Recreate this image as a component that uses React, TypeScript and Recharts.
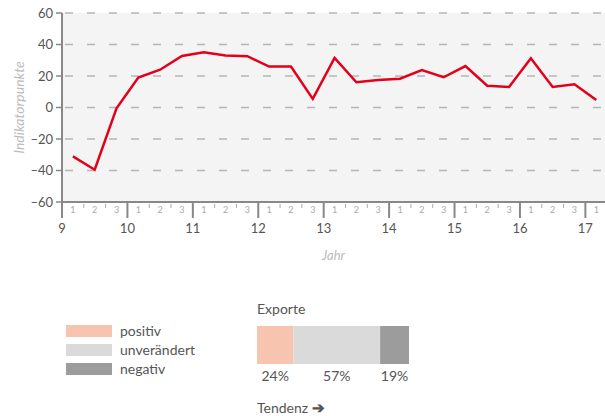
import React from "react";
import {
  LineChart,
  Line,
  XAxis,
  YAxis,
  CartesianGrid,
  BarChart,
  Bar,
  LabelList,
} from "recharts";

// Jahre (Achse) und Tertiale
const years = [9, 10, 11, 12, 13, 14, 15, 16, 17];
const tertials = ["1", "2", "3"];

// Indikatorpunkte je Tertial, ab 2009 T1
const values = [
  -31, -39.5, -0.5,
  19, 24, 32.7,
  35, 33, 32.6,
  26, 26, 5.5,
  31.5, 16, 17.4,
  18.3, 23.8, 19.2,
  26.3, 13.8, 13,
  31.3, 13, 14.8,
  4.7,
];

const yTicks = [-60, -40, -20, 0, 20, 40, 60];

// Exporte: Tendenz-Verteilung
const shares = [24, 57, 19];
const shareKeys = ["positiv", "unverändert", "negativ"];
const shareColors = ["#f7c4b0", "#d9dad9", "#9c9c9c"];

const X_MAX = 17.3;
const TEXT = "#555";
const FONT = "Lato, 'Open Sans', sans-serif";

const lineData = values.map((v, i) => ({
  t: years[0] + Math.floor(i / 3) + ((i % 3) + 0.5) / 3,
  v,
}));

const xTicks: number[] = [];
years.forEach((y) => {
  [0, 1, 2, 3, 4, 5].forEach((k) => {
    const t = y + k / 6;
    if (t <= X_MAX) xTicks.push(t);
  });
});

const barRow = [
  shareKeys.reduce((acc: any, k, i) => ({ ...acc, [k]: shares[i] }), { name: "Exporte" }),
];

function XTick(props: any) {
  const { x, y, payload } = props;
  const v = payload.value as number;
  const yr = Math.floor(v + 1e-6);
  const k = Math.round((v - yr) * 6);
  if (k === 0) {
    return (
      <g>
        <line x1={x} x2={x} y1={y} y2={y + 16} stroke="#888" strokeWidth={2} />
        <text x={x} y={y + 31} textAnchor="middle" fill={TEXT} fontSize={13} fontFamily={FONT}>
          {yr}
        </text>
      </g>
    );
  }
  if (k % 2 === 0) {
    return <line x1={x} x2={x} y1={y + 2} y2={y + 6} stroke="#aaa" strokeWidth={1} />;
  }
  return (
    <text x={x} y={y + 11} textAnchor="middle" fill="#aaa" fontSize={9} fontFamily={FONT}>
      {tertials[(k - 1) / 2]}
    </text>
  );
}

function YTitle(props: any) {
  const vb = props.viewBox;
  const cy = vb.y + vb.height / 2;
  return (
    <text
      x={18}
      y={cy}
      transform={`rotate(-90 18 ${cy})`}
      textAnchor="middle"
      dominantBaseline="central"
      fill="#bbb"
      fontStyle="italic"
      fontSize={14}
      fontFamily={FONT}
    >
      Indikatorpunkte
    </text>
  );
}

function ShareLabel(props: any) {
  const { x, y, width, height, value } = props;
  return (
    <text
      x={x + width / 2}
      y={y + height + 17}
      textAnchor="middle"
      fill={TEXT}
      fontSize={14}
      fontFamily={FONT}
    >
      {value}%
    </text>
  );
}

export default function App() {
  return (
    <div style={{ position: "absolute", left: 0, top: 0, width: 605, height: 416, background: "#fff", fontFamily: FONT }}>
      <div style={{ position: "absolute", left: 0, top: 0 }}>
        <LineChart width={605} height={270} data={lineData} margin={{ top: 13, right: 0, bottom: 0, left: 0 }}>
          <CartesianGrid
            vertical={false}
            fill="#f4f4f4"
            stroke="#b5b5b5"
            strokeWidth={1.5}
            strokeDasharray="0 3 8 11"
          />
          <XAxis
            dataKey="t"
            type="number"
            domain={[9, X_MAX]}
            ticks={xTicks}
            interval={0}
            tick={<XTick />}
            tickLine={false}
            tickSize={0}
            tickMargin={0}
            axisLine={{ stroke: "#888", strokeWidth: 2 }}
            height={68}
            label={{ value: "Jahr", position: "insideBottom", offset: 10, fill: "#bbb", fontStyle: "italic", fontSize: 13, fontFamily: FONT }}
          />
          <YAxis
            type="number"
            domain={[-60, 60]}
            ticks={yTicks}
            interval={0}
            width={62}
            tickSize={6}
            tickMargin={3}
            tickLine={{ stroke: "#888", strokeWidth: 1.5 }}
            axisLine={{ stroke: "#888", strokeWidth: 2 }}
            tick={{ fill: TEXT, fontSize: 13, fontFamily: FONT }}
            tickFormatter={(v: number) => (v < 0 ? `–${Math.abs(v)}` : `${v}`)}
            label={<YTitle />}
          />
          <Line
            type="linear"
            dataKey="v"
            stroke="#e2001a"
            strokeWidth={2.5}
            dot={false}
            isAnimationActive={false}
          />
        </LineChart>
      </div>

      {/* Legende */}
      {shareKeys.map((k, i) => (
        <div key={k} style={{ position: "absolute", left: 66, top: 325 + i * 19, display: "flex", alignItems: "center" }}>
          <div style={{ width: 46, height: 12, background: shareColors[i] }} />
          <span style={{ marginLeft: 8, fontSize: 14, color: TEXT, lineHeight: "12px" }}>{k}</span>
        </div>
      ))}

      <div style={{ position: "absolute", left: 257, top: 300, fontSize: 14, color: TEXT }}>Exporte</div>

      <div style={{ position: "absolute", left: 257, top: 326 }}>
        <BarChart
          width={152}
          height={60}
          data={barRow}
          layout="vertical"
          margin={{ top: 0, right: 0, bottom: 22, left: 0 }}
          barCategoryGap={0}
        >
          <XAxis type="number" domain={[0, 100]} hide />
          <YAxis type="category" dataKey="name" hide />
          {shareKeys.map((k, i) => (
            <Bar key={k} dataKey={k} stackId="a" fill={shareColors[i]} isAnimationActive={false}>
              <LabelList dataKey={k} content={<ShareLabel />} />
            </Bar>
          ))}
        </BarChart>
      </div>

      <div style={{ position: "absolute", left: 257, top: 398, fontSize: 14, color: TEXT }}>
        Tendenz <span style={{ fontWeight: 700, fontSize: 15 }}>➔</span>
      </div>
    </div>
  );
}
